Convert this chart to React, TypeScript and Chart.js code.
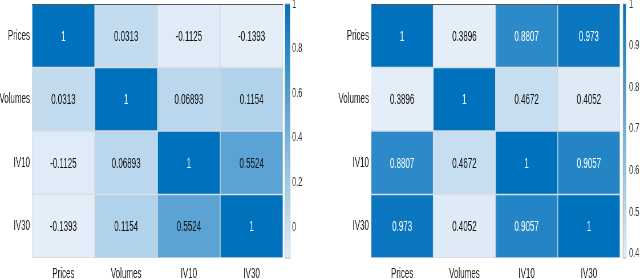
import React, { useEffect, useRef } from "react";
import { Chart, registerables } from "chart.js";

Chart.register(...registerables);

const labels = ["Prices", "Volumes", "IV10", "IV30"];

const leftRows = [
  [1, 0.0313, -0.1125, -0.1393],
  [0.0313, 1, 0.06893, 0.1154],
  [-0.1125, 0.06893, 1, 0.5524],
  [-0.1393, 0.1154, 0.5524, 1],
];
const leftMin = -0.1393;
const leftMax = 1;
const leftTicks = [0, 0.2, 0.4, 0.6, 0.8, 1];

const rightRows = [
  [1, 0.3896, 0.8807, 0.973],
  [0.3896, 1, 0.4672, 0.4052],
  [0.8807, 0.4672, 1, 0.9057],
  [0.973, 0.4052, 0.9057, 1],
];
const rightMin = 0.3896;
const rightMax = 1;
const rightTicks = [0.4, 0.5, 0.6, 0.7, 0.8, 0.9, 1];

const LO = [228, 238, 248];
const HI = [0, 114, 189];
const FONT = "'Liberation Sans', Arial, sans-serif";
const LOGICAL_W = 561;
const K = 320 / LOGICAL_W;
const H = 279;
const px = (v: number) => v / K;

function colorAt(t: number) {
  const c = LO.map((l, i) => Math.round(l + (HI[i] - l) * Math.max(0, Math.min(1, t))));
  return `rgb(${c[0]},${c[1]},${c[2]})`;
}

type PanelCfg = {
  rows: number[][];
  min: number;
  max: number;
  ticks: number[];
  leftW: number;
  rightW: number;
  cbGap: number;
  cbWidth: number;
  offsetX: number;
};

function makeChart(canvas: HTMLCanvasElement, cfg: PanelCfg) {
  const { rows, min, max, ticks, leftW, rightW, cbGap, cbWidth } = cfg;
  const tOf = (v: number) => (v - min) / (max - min);
  const datasets = rows.map((row, r) => ({
    label: labels[r],
    data: row.map(() => [r, r + 1]),
    backgroundColor: row.map((v) => colorAt(tOf(v))),
    borderColor: "rgba(200,208,216,0.8)",
    borderWidth: 1,
    borderSkipped: false,
    barPercentage: 1,
    categoryPercentage: 1,
    grouped: false,
  }));

  const cellText = {
    id: "cellText",
    afterDatasetsDraw(chart: any) {
      const ctx = chart.ctx;
      ctx.save();
      ctx.font = `14px ${FONT}`;
      ctx.textAlign = "center";
      ctx.textBaseline = "middle";
      chart.data.datasets.forEach((_ds: any, di: number) => {
        const meta = chart.getDatasetMeta(di);
        meta.data.forEach((el: any, i: number) => {
          const v = rows[di][i];
          ctx.fillStyle = tOf(v) > 0.7 ? "#ffffff" : "#111111";
          const p = el.getProps(["x", "y", "base"], true);
          ctx.fillText(String(v), p.x, (p.y + p.base) / 2 + 1);
        });
      });
      ctx.restore();
    },
  };

  const colorbar = {
    id: "colorbar",
    afterDraw(chart: any) {
      const ctx = chart.ctx;
      const a = chart.chartArea;
      const cb = chart.scales.cb;
      ctx.save();
      const x = a.right + cbGap;
      const g = ctx.createLinearGradient(0, cb.bottom, 0, cb.top);
      g.addColorStop(0, colorAt(0));
      g.addColorStop(1, colorAt(1));
      ctx.fillStyle = g;
      ctx.fillRect(x, cb.top, cbWidth, cb.bottom - cb.top);
      ctx.strokeStyle = "rgba(150,165,180,0.8)";
      ctx.lineWidth = 1;
      ctx.strokeRect(x, cb.top, cbWidth, cb.bottom - cb.top);
      ctx.strokeStyle = "#555";
      ctx.beginPath();
      ctx.moveTo(a.left, a.top + 0.5);
      ctx.lineTo(a.right, a.top + 0.5);
      ctx.stroke();
      ctx.restore();
    },
  };

  const zeroPad = (s: any) => {
    s.paddingTop = 0;
    s.paddingBottom = 0;
    s.paddingLeft = 0;
    s.paddingRight = 0;
  };

  const noGrid = { display: false, drawTicks: false, tickLength: 0 };

  return new Chart(canvas, {
    type: "bar",
    data: { labels, datasets: datasets as any },
    options: {
      responsive: false,
      maintainAspectRatio: false,
      animation: false,
      devicePixelRatio: 1,
      layout: { padding: { top: 4, left: 0, right: 0, bottom: 0 } },
      plugins: { legend: { display: false }, tooltip: { enabled: false } },
      scales: {
        x: {
          type: "category",
          offset: true,
          position: "bottom",
          grid: noGrid,
          border: { display: false },
          ticks: {
            padding: 8,
            color: "#222",
            font: { size: 14, family: FONT },
            maxRotation: 0,
            autoSkip: false,
          },
          afterFit: (s: any) => {
            s.height = 21;
            zeroPad(s);
          },
        },
        y: {
          type: "linear",
          min: 0,
          max: 4,
          reverse: true,
          position: "left",
          grid: noGrid,
          border: { display: false },
          afterBuildTicks: (s: any) => {
            s.ticks = [0.5, 1.5, 2.5, 3.5].map((v) => ({ value: v }));
          },
          ticks: {
            padding: px(2),
            color: "#222",
            font: { size: 14, family: FONT },
            autoSkip: false,
            callback: (v: any) => labels[Math.floor(Number(v))],
          },
          afterFit: (s: any) => {
            s.width = leftW;
            zeroPad(s);
          },
        },
        cb: {
          type: "linear",
          axis: "y",
          position: "right",
          min,
          max,
          grid: noGrid,
          border: { display: false },
          afterBuildTicks: (s: any) => {
            s.ticks = ticks.map((v) => ({ value: v }));
          },
          ticks: {
            padding: px(9),
            color: "#333",
            font: { size: 13, family: FONT },
            autoSkip: false,
            callback: (v: any) => String(Math.round(Number(v) * 10) / 10),
          },
          afterFit: (s: any) => {
            s.width = rightW;
            zeroPad(s);
          },
        },
      } as any,
    },
    plugins: [cellText, colorbar],
  });
}

function Panel({ cfg }: { cfg: PanelCfg }) {
  const ref = useRef<HTMLCanvasElement | null>(null);
  useEffect(() => {
    const c = ref.current!;
    c.width = LOGICAL_W;
    c.height = H;
    const chart = makeChart(c, cfg);
    return () => chart.destroy();
  }, []);
  return (
    <canvas
      ref={ref}
      width={LOGICAL_W}
      height={H}
      style={{
        position: "absolute",
        left: cfg.offsetX,
        top: 0,
        width: LOGICAL_W,
        height: H,
        transform: `scaleX(${K})`,
        transformOrigin: "0 0",
      }}
    />
  );
}

export default function App() {
  const left: PanelCfg = {
    rows: leftRows,
    min: leftMin,
    max: leftMax,
    ticks: leftTicks,
    leftW: px(32),
    rightW: LOGICAL_W - px(283),
    cbGap: px(2),
    cbWidth: px(5),
    offsetX: 0,
  };
  const right: PanelCfg = {
    rows: rightRows,
    min: rightMin,
    max: rightMax,
    ticks: rightTicks,
    leftW: px(51),
    rightW: LOGICAL_W - px(300),
    cbGap: px(3),
    cbWidth: px(3),
    offsetX: 320,
  };
  return (
    <div
      style={{
        position: "fixed",
        left: 0,
        top: 0,
        width: 640,
        height: H,
        background: "#fff",
        overflow: "hidden",
      }}
    >
      <Panel cfg={left} />
      <Panel cfg={right} />
    </div>
  );
}
